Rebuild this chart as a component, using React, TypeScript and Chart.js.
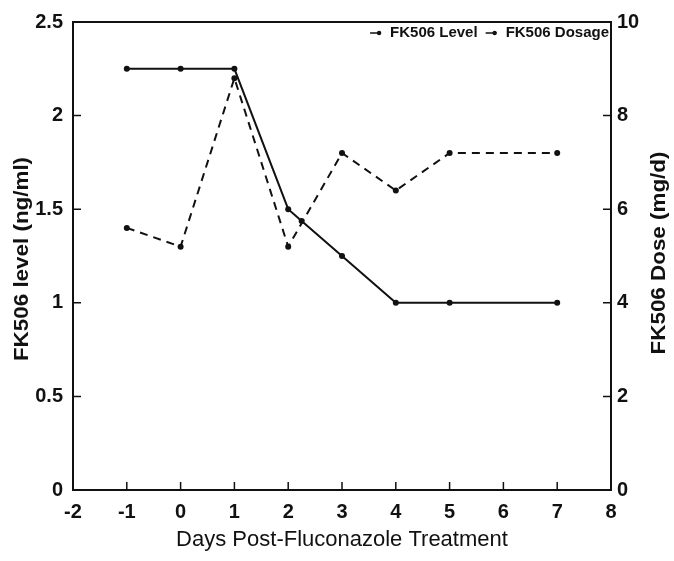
import React, { useEffect, useRef } from "react";
import { Chart, registerables } from "chart.js";

Chart.register(...registerables);

// ---- data ----
const levelDays = [-1, 0, 1, 2, 3, 4, 5, 7];
const levelValues = [1.4, 1.3, 2.2, 1.3, 1.8, 1.6, 1.8, 1.8]; // ng/ml
const doseDays = [-1, 0, 1, 2, 2.25, 3, 4, 5, 7];
const doseValues = [9, 9, 9, 6, 5.75, 5, 4, 4, 4]; // mg/d

const xTicks = [-2, -1, 0, 1, 2, 3, 4, 5, 6, 7, 8];
const yLeftTicks = [0, 0.5, 1, 1.5, 2, 2.5];
const yRightTicks = [0, 2, 4, 6, 8, 10];

const seriesLabels = ["FK506 Level", "FK506 Dosage"];
const xTitle = "Days Post-Fluconazole Treatment";
const yLeftTitle = "FK506 level (ng/ml)";
const yRightTitle = "FK506 Dose (mg/d)";

const INK = "#111";
const FONT = "'Liberation Sans', Arial, Helvetica, sans-serif";

function drawVerticalTitle(ctx: any, text: string, cx: number, cy: number) {
  ctx.save();
  ctx.fillStyle = INK;
  ctx.font = `bold 20px ${FONT}`;
  ctx.textAlign = "center";
  ctx.textBaseline = "middle";
  ctx.translate(cx, cy);
  ctx.rotate(-Math.PI / 2);
  ctx.scale(1.12, 1);
  ctx.fillText(text, 0, 0);
  ctx.restore();
}

const framePlugin = {
  id: "frameAndLegend",
  afterDatasetsDraw(chart: any) {
    const { ctx, chartArea: a, scales } = chart;
    ctx.save();
    // frame
    ctx.strokeStyle = INK;
    ctx.lineWidth = 2;
    ctx.strokeRect(a.left, a.top, a.right - a.left, a.bottom - a.top);
    // inner ticks
    ctx.lineWidth = 1.5;
    const tl = 8;
    ctx.beginPath();
    xTicks.forEach((v) => {
      const px = scales.x.getPixelForValue(v);
      if (px <= a.left + 1 || px >= a.right - 1) return;
      ctx.moveTo(px, a.bottom);
      ctx.lineTo(px, a.bottom - tl);
    });
    yLeftTicks.forEach((v) => {
      const py = scales.y.getPixelForValue(v);
      if (py <= a.top + 1 || py >= a.bottom - 1) return;
      ctx.moveTo(a.left, py);
      ctx.lineTo(a.left + tl, py);
    });
    yRightTicks.forEach((v) => {
      const py = scales.y1.getPixelForValue(v);
      if (py <= a.top + 1 || py >= a.bottom - 1) return;
      ctx.moveTo(a.right, py);
      ctx.lineTo(a.right - tl, py);
    });
    ctx.stroke();

    // axis titles (both read bottom to top)
    drawVerticalTitle(ctx, yLeftTitle, 22, 259);
    drawVerticalTitle(ctx, yRightTitle, 659, 253);

    // legend (top-right inside plot)
    ctx.fillStyle = INK;
    ctx.font = `bold 15px ${FONT}`;
    ctx.textAlign = "left";
    ctx.textBaseline = "middle";
    const ly = a.top + 11;
    let xr = a.right - 2;
    const items = chart.data.datasets.map((d: any) => d.label).reverse();
    items.forEach((lab: string) => {
      const w = ctx.measureText(lab).width;
      const tx = xr - w;
      ctx.fillText(lab, tx, ly);
      const mx1 = tx - 20;
      const mx2 = tx - 9;
      ctx.lineWidth = 1.5;
      ctx.beginPath();
      ctx.moveTo(mx1, ly);
      ctx.lineTo(mx2, ly);
      ctx.stroke();
      ctx.beginPath();
      ctx.arc(mx2 - 2, ly, 2.2, 0, Math.PI * 2);
      ctx.fill();
      xr = mx1 - 8;
    });
    ctx.restore();
  },
};

export default function App() {
  const ref = useRef<HTMLCanvasElement | null>(null);
  useEffect(() => {
    document.body.style.margin = "0";
    if (!ref.current) return;
    const tickFont = { family: FONT, size: 20, weight: "bold" as const };
    const noGrid = { display: false, drawTicks: false };
    const chart = new Chart(ref.current, {
      type: "scatter",
      data: {
        datasets: [
          {
            label: seriesLabels[0],
            data: levelDays.map((d, i) => ({ x: d, y: levelValues[i] })),
            yAxisID: "y",
            showLine: true,
            borderColor: INK,
            backgroundColor: INK,
            borderWidth: 2,
            borderDash: [8, 6],
            pointRadius: 3,
            pointBorderWidth: 0,
          },
          {
            label: seriesLabels[1],
            data: doseDays.map((d, i) => ({ x: d, y: doseValues[i] })),
            yAxisID: "y1",
            showLine: true,
            borderColor: INK,
            backgroundColor: INK,
            borderWidth: 2,
            pointRadius: 3,
            pointBorderWidth: 0,
          },
        ],
      },
      options: {
        responsive: false,
        animation: false,
        devicePixelRatio: 1,
        layout: { padding: { top: 16, left: 0, right: 0, bottom: 0 } },
        plugins: { legend: { display: false }, tooltip: { enabled: false } },
        scales: {
          x: {
            type: "linear",
            position: "bottom",
            min: -2,
            max: 8,
            afterBuildTicks: (s: any) => {
              s.ticks = xTicks.map((v) => ({ value: v }));
            },
            afterFit: (s: any) => {
              s.height = 71;
            },
            grid: noGrid,
            border: { display: false },
            ticks: {
              color: INK,
              font: tickFont,
              padding: 10,
              maxRotation: 0,
              autoSkip: false,
              callback: (v: any) => String(v),
            },
            title: {
              display: true,
              text: xTitle,
              color: INK,
              font: { family: FONT, size: 22, weight: "normal" },
              padding: { top: 0, bottom: 8 },
            },
          },
          y: {
            type: "linear",
            position: "left",
            min: 0,
            max: 2.5,
            afterBuildTicks: (s: any) => {
              s.ticks = yLeftTicks.map((v) => ({ value: v }));
            },
            afterFit: (s: any) => {
              s.width = 73;
            },
            grid: noGrid,
            border: { display: false },
            ticks: {
              color: INK,
              font: tickFont,
              padding: 10,
              callback: (v: any) => String(v),
            },
          },
          y1: {
            type: "linear",
            position: "right",
            min: 0,
            max: 10,
            afterBuildTicks: (s: any) => {
              s.ticks = yRightTicks.map((v) => ({ value: v }));
            },
            afterFit: (s: any) => {
              s.width = 63;
            },
            grid: noGrid,
            border: { display: false },
            ticks: {
              color: INK,
              font: tickFont,
              padding: 6,
              callback: (v: any) => String(v),
            },
          },
        },
      },
      plugins: [framePlugin],
    });
    return () => chart.destroy();
  }, []);
  return (
    <div style={{ width: 674, height: 561, background: "#fff" }}>
      <canvas ref={ref} width={674} height={561} style={{ display: "block" }} />
    </div>
  );
}
